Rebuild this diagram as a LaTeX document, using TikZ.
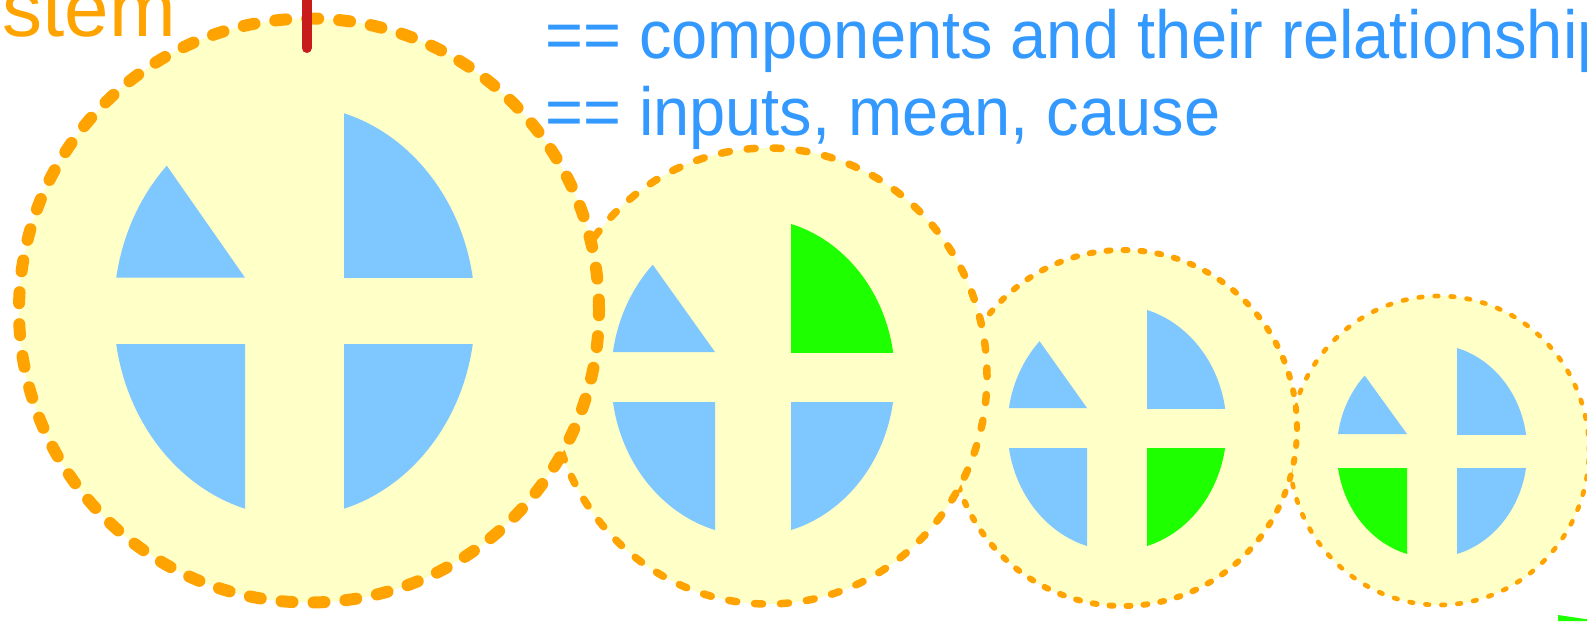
\documentclass[tikz,border=0pt]{standalone}
\usepackage{fontspec}
\setmainfont{Liberation Sans}
\newfontfamily\bluefam[FakeStretch=0.955]{Liberation Sans}
\newfontfamily\orfam{Liberation Sans}
\usetikzlibrary{calc}
\definecolor{orng}{RGB}{255,163,0}
\definecolor{yelfill}{RGB}{255,255,200}
\definecolor{qblue}{RGB}{127,199,255}
\definecolor{qgreen}{RGB}{30,255,0}
\definecolor{txtblue}{RGB}{51,153,255}
\definecolor{redline}{RGB}{200,28,28}
\tikzset{
  circbase/.style={fill=yelfill, draw=orng, line cap=round},
  circA/.style={circbase, line width=12pt, dash pattern=on 11pt off 21pt},
  circB/.style={circbase, line width=7.5pt, dash pattern=on 8pt off 18pt},
  circC/.style={circbase, line width=6pt, dash pattern=on 4pt off 13pt},
  circD/.style={circbase, line width=4.7pt, dash pattern=on 3.5pt off 12.5pt},
  bluetext/.style={anchor=base west, inner sep=0pt, text=txtblue, font=\bluefam\fontsize{68}{80}\selectfont},
  orangetext/.style={anchor=base east, inner sep=0pt, text=orng, font=\orfam\fontsize{80}{90}\selectfont},
}
% #1 cx, #2 cy, #3 hx, #4 hy, #5 A, #6 B, #7 UR colour, #8 LR colour, #9 LL colour
\newcommand{\drawquads}[9]{%
  \begin{scope}
    \clip ({#1+#3},{#2-#6-5}) rectangle ({#1+#5+5},{#2-#4});
    \fill[#7] (#1,#2) ellipse [x radius=#5pt, y radius=#6pt];
  \end{scope}
  \begin{scope}
    \clip ({#1+#3},{#2+#4}) rectangle ({#1+#5+5},{#2+#6+5});
    \fill[#8] (#1,#2) ellipse [x radius=#5pt, y radius=#6pt];
  \end{scope}
  \begin{scope}
    \clip ({#1-#5-5},{#2+#4}) rectangle ({#1-#3},{#2+#6+5});
    \fill[#9] (#1,#2) ellipse [x radius=#5pt, y radius=#6pt];
  \end{scope}
  \begin{scope}
    \clip ({#1-#5-5},{#2-#6-5}) rectangle ({#1-#3},{#2-#4});
    \coordinate (qc) at ({#1-#3},{#2-#4});
    \coordinate (qp) at ({#1-0.7071*#5},{#2-0.7071*#6});
    \clip (qc) -- ($(qc)!3!(qp)$) -- ++(-400,0) |- (qc) -- cycle;
    \fill[qblue] (#1,#2) ellipse [x radius=#5pt, y radius=#6pt];
  \end{scope}
}
\begin{document}
\begin{tikzpicture}[x=1pt, y=-1pt]
  \useasboundingbox (0,0) rectangle (1587,621);
  \clip (0,0) rectangle (1587,621);
  % circle 4
  \path[circD] (1439,450.5) ellipse [x radius=150pt, y radius=154.5pt];
  \drawquads{1432}{451}{25}{17}{95.2}{106.7}{qblue}{qblue}{qgreen}
  % circle 3
  \path[circC] (1123,428) ellipse [x radius=174pt, y radius=178pt];
  \drawquads{1117}{428}{30}{20}{109.5}{122.7}{qblue}{qgreen}{qblue}
  % circle 2
  \path[circB] (768,376) ellipse [x radius=219pt, y radius=228pt];
  \drawquads{753}{377}{38}{25}{141.8}{158.8}{qgreen}{qblue}{qblue}
  % circle 1
  \path[circA] (309,310.5) ellipse [x radius=290pt, y radius=292pt];
  \drawquads{294.5}{311}{49.5}{33.3}{180.6}{205.5}{qblue}{qblue}{qblue}
  % red tick
  \coordinate (rtop) at (306.7,-10);
  \coordinate (rbot) at (306.7,48);
  \draw[redline, line width=10pt, line cap=round] (rtop) -- (rbot);
  % texts
  \node[orangetext] (title) at (176,36) {stem};
  \node[bluetext] (line1) at (545,58) {== components and their relationship};
  \node[bluetext] (line2) at (545,135) {== inputs, mean, cause};
  % green sliver bottom right
  \fill[qgreen] (1558,615) -- (1587,619.3) -- (1587,621) -- (1558,621) -- cycle;
\end{tikzpicture}
\end{document}
